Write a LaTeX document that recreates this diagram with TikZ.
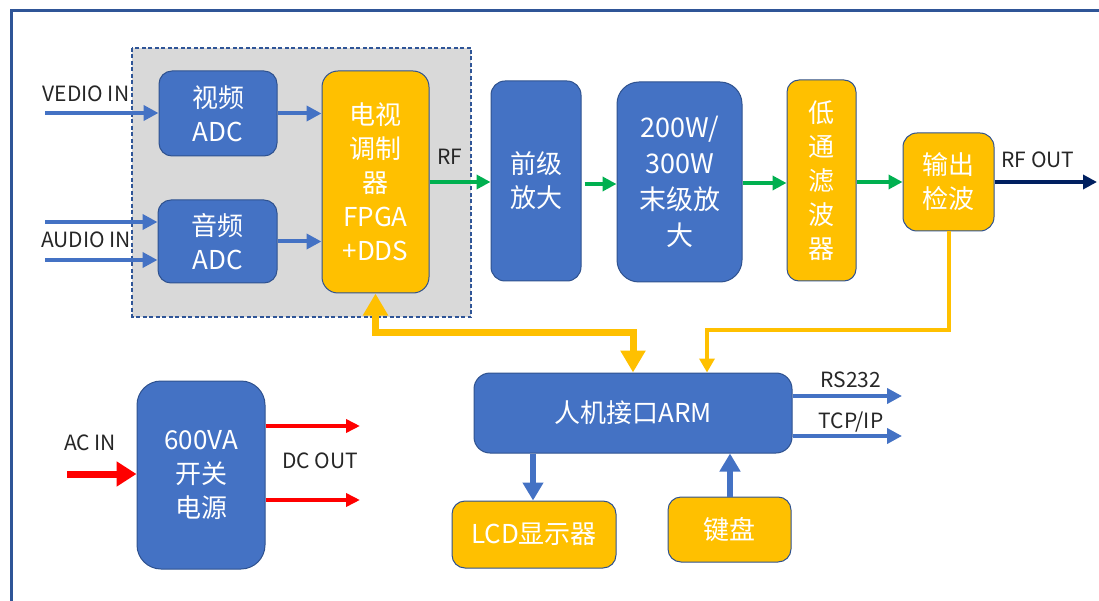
\documentclass[tikz,border=0pt]{standalone}
\usepackage{fontspec}
\setmainfont{Noto Sans CJK SC}
\usetikzlibrary{arrows.meta}
\definecolor{bbox}{HTML}{4472C4}
\definecolor{bedge}{HTML}{2F528F}
\definecolor{ybox}{HTML}{FFC000}
\definecolor{gline}{HTML}{00B050}
\definecolor{navy}{HTML}{002060}
\definecolor{rline}{HTML}{FF0000}
\definecolor{framec}{HTML}{2F5597}
\definecolor{grayreg}{HTML}{D9D9D9}
\tikzset{
  boxbase/.style={draw=bedge, line width=1pt, rounded corners=13pt, text=white, align=center, inner sep=0pt, font=\fontsize{26}{34}\selectfont},
  bluebox/.style={boxbase, fill=bbox},
  yelbox/.style={boxbase, fill=ybox},
  lbl/.style={text=black!85, font=\fontsize{21}{24}\selectfont, inner sep=0pt},
  barrow/.style={draw=bbox, line width=4pt, -{Triangle[length=15pt,width=15pt]}},
  bigbarrow/.style={draw=bbox, line width=6pt, -{Triangle[length=18pt,width=20pt]}},
  garrow/.style={draw=gline, line width=4pt, -{Triangle[length=14pt,width=14pt]}},
  narrow/.style={draw=navy, line width=4pt, -{Triangle[length=14pt,width=14pt]}},
  rarrow/.style={draw=rline, line width=4pt, -{Triangle[length=14pt,width=13pt]}},
  bigrarrow/.style={draw=rline, line width=7pt, -{Triangle[length=20pt,width=24pt]}},
  ybus/.style={draw=ybox, line width=7pt, {Triangle[length=22pt,width=24pt]}-{Triangle[length=22pt,width=24pt]}},
  ythin/.style={draw=ybox, line width=4pt, -{Triangle[length=14pt,width=15pt]}},
}
\begin{document}
\begin{tikzpicture}[x=1pt,y=-1pt]
\useasboundingbox (0,0) rectangle (1099,601);
% frame
\draw[framec, line width=3pt] (11,601) -- (11,11) -- (1099,11);
% gray region
\draw[fill=grayreg, draw=framec, line width=1.1pt, dash pattern=on 4pt off 2.5pt] (132,48) rectangle (471,317);
% boxes
\node[bluebox, minimum width=118pt, minimum height=85pt] (vadc) at (218,113.5) {视频\\ADC};
\node[bluebox, minimum width=119pt, minimum height=83pt] (aadc) at (217.5,241.5) {音频\\ADC};
\node[yelbox, minimum width=107pt, minimum height=222pt, rounded corners=16pt] (fpga) at (375.5,182) {电视\\调制\\器\\FPGA\\+DDS};
\node[bluebox, minimum width=90pt, minimum height=200pt, rounded corners=14pt] (pre) at (536,181) {前级\\放大};
\node[bluebox, minimum width=125pt, minimum height=200pt, rounded corners=22pt, font=\fontsize{27}{36}\selectfont] (pa) at (679.5,182) {200W/\\300W\\末级放\\大};
\node[yelbox, minimum width=69pt, minimum height=201pt, rounded corners=12pt] (lpf) at (821.5,180.5) {低\\通\\滤\\波\\器};
\node[yelbox, minimum width=91pt, minimum height=98pt, rounded corners=14pt] (det) at (948.5,182) {输出\\检波};
\node[bluebox, minimum width=318pt, minimum height=80pt, rounded corners=16pt] (arm) at (633,413) {人机接口ARM};
\node[yelbox, minimum width=164pt, minimum height=67pt] (lcd) at (534,534.5) {LCD显示器};
\node[yelbox, minimum width=123pt, minimum height=65pt] (kb) at (729.5,529.5) {键盘};
\node[bluebox, minimum width=128pt, minimum height=188pt, rounded corners=24pt] (psu) at (201,475) {600VA\\开关\\电源};
% labels
\node[lbl] (lvin) at (86,94) {VEDIO IN};
\node[lbl] (lain) at (86,240) {AUDIO IN};
\node[lbl] (lrf) at (450,157) {RF};
\node[lbl] (lrfout) at (1038,160) {RF OUT};
\node[lbl] (lrs) at (851,380) {RS232};
\node[lbl] (ltcp) at (851,422) {TCP/IP};
\node[lbl] (lac) at (90,443) {AC IN};
\node[lbl] (ldc) at (320,461) {DC OUT};
% input arrows
\coordinate (vin) at (45,113);
\coordinate (ain1) at (45,222);
\coordinate (ain2) at (45,260);
\draw[barrow] (vin) -- (vin -| vadc.west);
\draw[barrow] (ain1) -- (ain1 -| aadc.west);
\draw[barrow] (ain2) -- (ain2 -| aadc.west);
\draw[barrow] (vadc.east) -- (vadc.east -| fpga.west);
\draw[barrow] (aadc.east) -- (aadc.east -| fpga.west);
% RF chain
\draw[garrow] (fpga.east) -- (fpga.east -| pre.west);
\draw[garrow] ([xshift=3pt]pre.east |- 0,184) -- (pa.west |- 0,184);
\draw[garrow] (pa.east |- 0,183) -- (lpf.west |- 0,183);
\draw[garrow] (lpf.east |- 0,182) -- (det.west |- 0,182);
\coordinate (rfo) at (1097,182);
\draw[narrow] (det.east |- rfo) -- (rfo);
% yellow buses
\coordinate (j1) at (633,332);
\draw[ybus] (fpga.south) |- (j1) -- (j1 |- arm.north);
\coordinate (j2) at (707,330);
\draw[ythin] (det.south) |- (j2) -- (j2 |- arm.north);
% ARM outputs
\coordinate (rs) at (902,396);
\coordinate (tcp) at (902,436);
\draw[barrow] (arm.east |- rs) -- (rs);
\draw[barrow] (arm.east |- tcp) -- (tcp);
\coordinate (lcdx) at (533,0);
\coordinate (kbx) at (730,0);
\draw[bigbarrow] (arm.south -| lcdx) -- (lcd.north -| lcdx);
\draw[bigbarrow] (kb.north -| kbx) -- (arm.south -| kbx);
% power
\coordinate (acin) at (67,474);
\draw[bigrarrow] (acin) -- (acin -| psu.west);
\coordinate (dc1) at (360,426);
\coordinate (dc2) at (360,500);
\draw[rarrow] (psu.east |- dc1) -- (dc1);
\draw[rarrow] (psu.east |- dc2) -- (dc2);
\end{tikzpicture}
\end{document}
